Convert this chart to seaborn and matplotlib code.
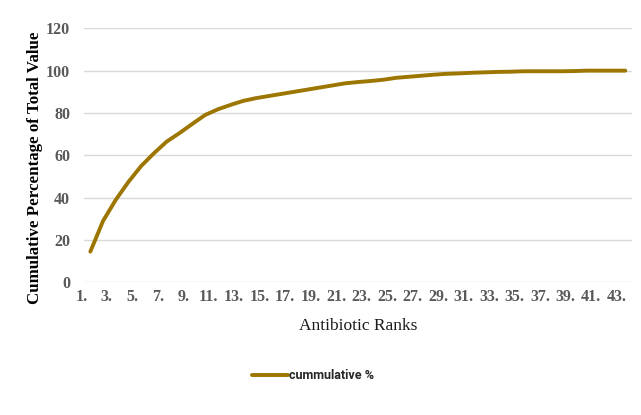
import matplotlib
matplotlib.use("Agg")
import matplotlib.pyplot as plt
import matplotlib.transforms as mtransforms
import seaborn as sns
import pandas as pd

ranks = list(range(1, 44))
cumulative = [14.5, 29, 39, 47.5, 55, 61, 66.5, 70.5, 74.8, 79, 81.7, 83.8, 85.7,
              87, 88, 89, 90, 91, 92, 93, 94, 94.6, 95.1, 95.7, 96.6, 97.1, 97.6,
              98.1, 98.5, 98.7, 99, 99.2, 99.4, 99.5, 99.7, 99.7, 99.7, 99.7, 99.8,
              100, 100, 100, 100]
tick_labels = [f"{r}." for r in ranks[::2]]
series_name = "cummulative %"

df = pd.DataFrame({"rank": ranks, "value": cumulative, "series": series_name})

sns.set_style("white")
fig = plt.figure(figsize=(6.41, 4.15), dpi=100)
ax = fig.add_axes([0.131, 0.3198, 0.9855 - 0.131, 0.9318 - 0.3198])

sns.lineplot(data=df, x="rank", y="value", hue="series", palette=["#9C7600"],
             linewidth=2.8, ax=ax, legend=True)

ax.set_xlim(0.5, 43.5)
ax.set_ylim(0, 120)
ax.set_yticks(range(0, 121, 20))
ax.set_xticks(ranks[::2])
ax.set_xticklabels(tick_labels)
ax.grid(axis="y", color="#D9D9D9", linewidth=1.0)
ax.grid(axis="x", visible=False)
for s in ax.spines.values():
    s.set_visible(False)
ax.tick_params(axis="both", length=0)
ax.tick_params(axis="x", pad=5)
ax.tick_params(axis="y", pad=10)

for lab in ax.get_xticklabels() + ax.get_yticklabels():
    lab.set_fontfamily("Liberation Serif")
    lab.set_fontweight("bold")
    lab.set_fontsize(11.5)
    lab.set_color("#595959")

offset = mtransforms.ScaledTranslation(-9 / 100, 0, fig.dpi_scale_trans)
for lab in ax.get_xticklabels():
    lab.set_transform(lab.get_transform() + offset)

ax.set_ylabel("Cumulative Percentage of Total Value", fontfamily="Liberation Serif",
              fontweight="bold", fontsize=12.2, color="black")
ax.yaxis.label.set_va("center")
ax.yaxis.set_label_coords(-0.0895, 0.452)

ax.set_xlabel("Antibiotic Ranks", fontfamily="Liberation Serif", fontsize=12.5,
              color="#1a1a1a")
ax.xaxis.label.set_va("center")
ax.xaxis.set_label_coords(0.5, -0.172)

leg = ax.get_legend()
handles, labels = ax.get_legend_handles_labels()
leg.remove()
fig.legend(handles, labels, loc="center", bbox_to_anchor=(0.488, 0.094),
           frameon=False, handlelength=2.9, handletextpad=0.1,
           prop={"family": "Roboto", "weight": "bold", "size": 9})

fig.savefig("out.png", dpi=100)
